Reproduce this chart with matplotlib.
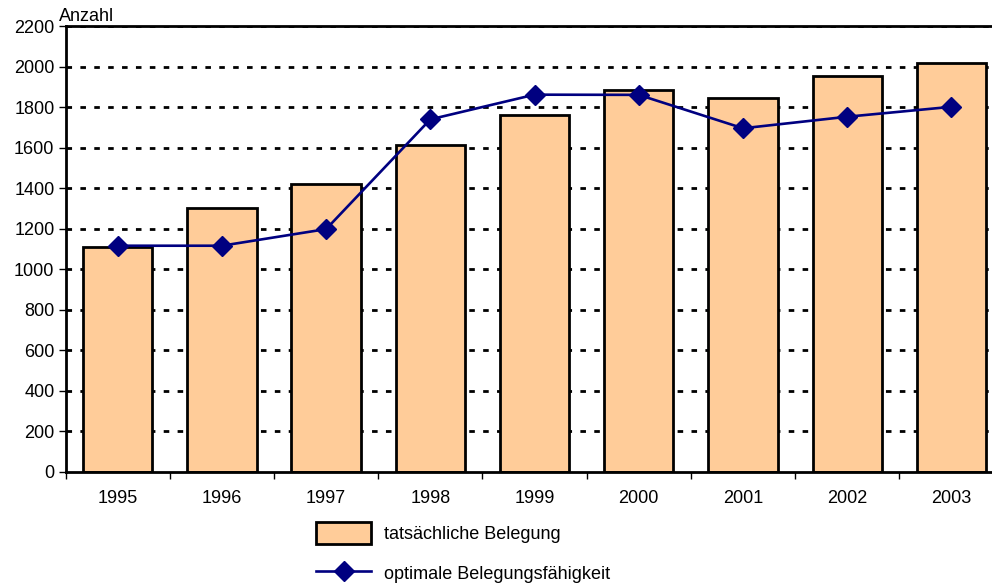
import numpy as np
import matplotlib
matplotlib.use("Agg")
import matplotlib.pyplot as plt
from matplotlib.patches import Patch
from matplotlib.lines import Line2D

plt.rcParams['font.family'] = ['Liberation Sans', 'DejaVu Sans']

# Data
years = ['1995', '1996', '1997', '1998', '1999', '2000', '2001', '2002', '2003']
belegung = [1108, 1304, 1422, 1611, 1761, 1886, 1847, 1954, 2017]
optimal = [1116, 1116, 1198, 1740, 1862, 1861, 1696, 1753, 1802]
yticks = list(range(0, 2201, 200))

fs = 13

fig = plt.figure(figsize=(9.92, 5.84), dpi=100)
ax = fig.add_axes([0.0661, 0.1923, 0.9455, 0.7628])

x = np.arange(len(years))

# dashed gridlines behind everything
for v in yticks[1:]:
    ax.axhline(v, color='black', lw=2.0, dashes=(2, 3.0), zorder=0)

ax.bar(x, belegung, width=0.665, color='#FFCC99', edgecolor='black',
       linewidth=2.0, zorder=2)
ax.plot(x, optimal, color='#000080', lw=1.9, marker='D', markersize=10,
        markeredgecolor='#000080', zorder=3)

ax.set_xlim(-0.5, len(years) - 0.5)
ax.set_ylim(0, 2200)
ax.set_yticks(yticks)
ax.set_xticks(np.arange(-0.5, len(years), 1.0))
ax.set_xticklabels([])
ax.set_xticks(x, minor=True)
ax.set_xticklabels(years, minor=True)
ax.tick_params(axis='x', which='major', length=5, width=1, direction='out')
ax.tick_params(axis='x', which='minor', length=0, pad=13, labelsize=fs)
ax.tick_params(axis='y', length=5, width=1, direction='out', pad=3, labelsize=fs)

for side in ['left', 'bottom', 'top']:
    ax.spines[side].set_linewidth(2.0)
ax.spines['right'].set_visible(False)

fig.text(0.059, 0.958, 'Anzahl', fontsize=fs, ha='left', va='bottom')

handles = [
    Patch(facecolor='#FFCC99', edgecolor='black', linewidth=2.0),
    Line2D([0], [0], color='#000080', lw=1.9, marker='D', markersize=10),
]
labels = ['tatsächliche Belegung', 'optimale Belegungsfähigkeit']
fig.legend(handles, labels, loc='upper left', bbox_to_anchor=(0.319, 0.106),
           frameon=False, fontsize=fs, handlelength=3.0, handleheight=1.45,
           labelspacing=1.05, handletextpad=0.75, borderaxespad=0, borderpad=0)

fig.savefig('out.png', dpi=100)
